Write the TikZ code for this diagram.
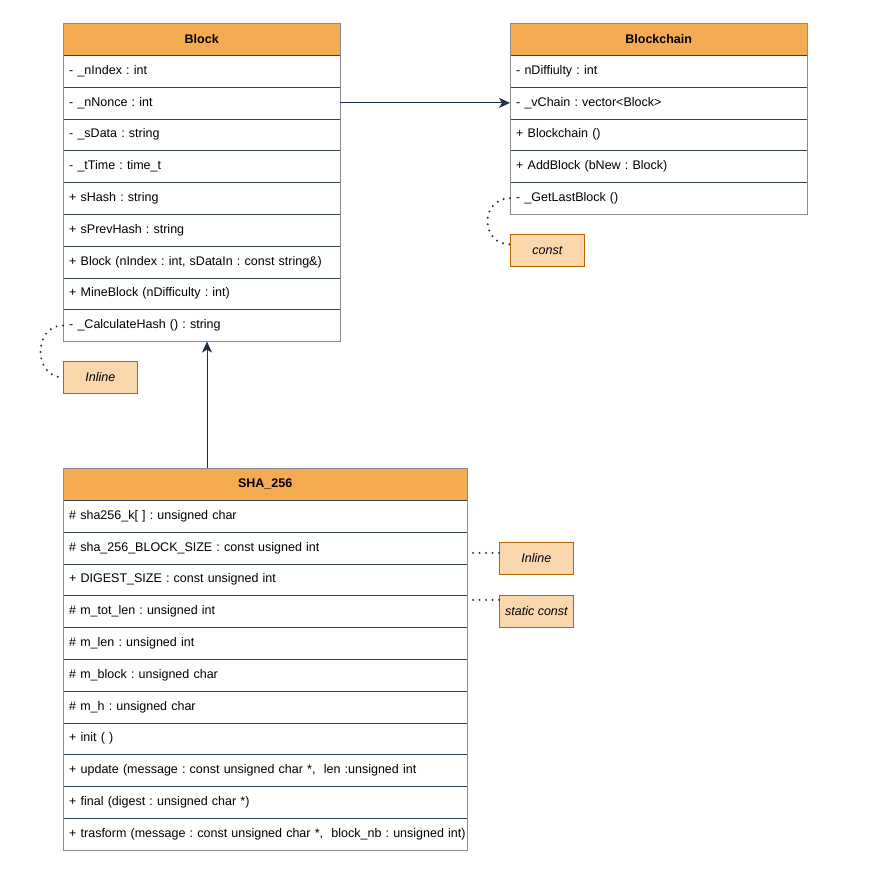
\documentclass[tikz,border=0pt]{standalone}
\usepackage{fontspec}
\setmainfont{Liberation Sans}
\usetikzlibrary{positioning, arrows.meta}
\frenchspacing

\definecolor{hdrfill}{HTML}{F5AB52}
\definecolor{notefill}{HTML}{FAD7AC}
\definecolor{notedraw}{HTML}{B46504}
\definecolor{sepline}{HTML}{34444F}
\definecolor{boxline}{HTML}{8C8C8C}
\definecolor{arrline}{HTML}{1F2F43}

\tikzset{
  hdr/.style={draw=boxline, fill=hdrfill, anchor=north west, minimum width=#1,
    minimum height=32, inner sep=0, font=\fontsize{12.5}{15}\selectfont\bfseries},
  row/.style 2 args={draw=sepline, anchor=north west, minimum width=#1, minimum height=31.8,
    text width=#2, align=left, inner xsep=6, inner ysep=0, font=\fontsize{12.5}{15}\selectfont},
  outline/.style={draw=boxline, line width=0.8pt},
  note/.style={draw=notedraw, fill=notefill, line width=0.8pt, anchor=north west,
    minimum width=74, minimum height=32, inner sep=0, font=\fontsize{12.5}{15}\selectfont\itshape},
  arr/.style={draw=arrline, line width=0.9pt, -{Stealth[length=11pt, width=10pt, inset=3pt]}},
  dots/.style={draw=arrline, line width=2.2pt, line cap=round, dash pattern=on 0pt off 6.5pt}
}

\begin{document}
\begin{tikzpicture}[x=1pt, y=-1pt]
  \useasboundingbox (0,0) rectangle (875,893);

  % Block
  \node[hdr=277] (blkHead) at (63,23) {Block};
  \node[row={277}{265pt}] (blk1) at (63,55) {- \_nIndex : int};
  \node[row={277}{265pt}] (blk2) at (63,86.8) {- \_nNonce : int};
  \node[row={277}{265pt}] (blk3) at (63,118.6) {- \_sData : string};
  \node[row={277}{265pt}] (blk4) at (63,150.4) {- \_tTime : time\_t};
  \node[row={277}{265pt}] (blk5) at (63,182.2) {+ sHash : string};
  \node[row={277}{265pt}] (blk6) at (63,214) {+ sPrevHash : string};
  \node[row={277}{265pt}] (blk7) at (63,245.8) {\mbox{+ Block (nIndex : int, sDataIn : const string\&)}};
  \node[row={277}{265pt}] (blk8) at (63,277.6) {+ MineBlock (nDifficulty : int)};
  \node[row={277}{265pt}] (blk9) at (63,309.4) {- \_CalculateHash () : string};
  \draw[outline] (blkHead.north west) rectangle (blk9.south east);

  % Blockchain
  \node[hdr=297] (chnHead) at (510,23) {Blockchain};
  \node[row={297}{285pt}] (chn1) at (510,55) {- nDiffiulty : int};
  \node[row={297}{285pt}] (chn2) at (510,86.8) {- \_vChain : vector<Block>};
  \node[row={297}{285pt}] (chn3) at (510,118.6) {+ Blockchain ()};
  \node[row={297}{285pt}] (chn4) at (510,150.4) {+ AddBlock (bNew : Block)};
  \node[row={297}{285pt}] (chn5) at (510,182.2) {- \_GetLastBlock ()};
  \draw[outline] (chnHead.north west) rectangle (chn5.south east);

  % SHA_256
  \node[hdr=404] (shaHead) at (63,468) {SHA\_256};
  \node[row={404}{392pt}] (sha1) at (63,500) {\# sha256\_k[ ] : unsigned char};
  \node[row={404}{392pt}] (sha2) at (63,531.8) {\# sha\_256\_BLOCK\_SIZE : const usigned int};
  \node[row={404}{392pt}] (sha3) at (63,563.6) {+ DIGEST\_SIZE : const unsigned int};
  \node[row={404}{392pt}] (sha4) at (63,595.4) {\# m\_tot\_len : unsigned int};
  \node[row={404}{392pt}] (sha5) at (63,627.2) {\# m\_len : unsigned int};
  \node[row={404}{392pt}] (sha6) at (63,659) {\# m\_block : unsigned char};
  \node[row={404}{392pt}] (sha7) at (63,690.8) {\# m\_h : unsigned char};
  \node[row={404}{392pt}] (sha8) at (63,722.6) {+ init ( )};
  \node[row={404}{392pt}] (sha9) at (63,754.4) {\mbox{+ update (message : const unsigned char *,\ \ len :unsigned int}};
  \node[row={404}{392pt}] (sha10) at (63,786.2) {+ final (digest : unsigned char *)};
  \node[row={404}{392pt}] (sha11) at (63,818) {\mbox{+ trasform (message : const unsigned char *,\ \ block\_nb : unsigned int)}};
  \draw[outline] (shaHead.north west) rectangle (sha11.south east);

  % notes
  \node[note] (inl1) at (63,361) {Inline};
  \node[note] (cst) at (510,234) {const};
  \node[note] (inl2) at (499,541.5) {Inline};
  \node[note] (stc) at (499,594.5) {static const};

  % connectors
  \coordinate (upX) at (207,0);
  \draw[arr] (blk2.east) -- (chn2.west);
  \draw[arr] (shaHead.north -| upX) -- (blk9.south -| upX);
  \draw[dots] (blk9.west) .. controls +(-30,0) and +(-30,0) .. (inl1.west);
  \draw[dots] (chn5.west) .. controls +(-30,0) and +(-30,0) .. ([yshift=6]cst.west);
  \draw[dots] ([yshift=5]inl2.west) -- ([xshift=5, yshift=5]inl2.west -| sha2.east);
  \draw[dots] ([yshift=11]stc.west) -- ([xshift=5, yshift=11]stc.west -| sha4.east);
\end{tikzpicture}
\end{document}
